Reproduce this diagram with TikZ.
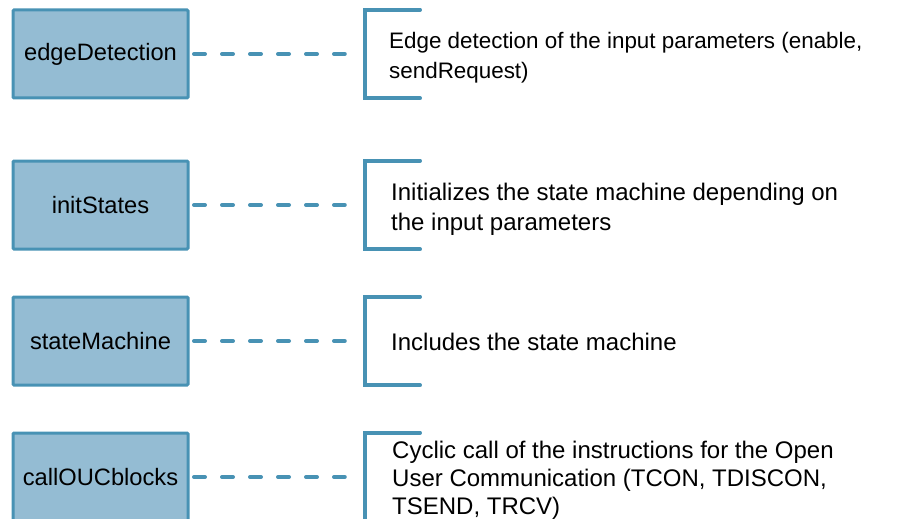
\documentclass[tikz,border=0pt]{standalone}
\usepackage{fontspec}
\setmainfont{Liberation Sans}
\definecolor{boxfill}{RGB}{148,188,211}
\definecolor{boxline}{RGB}{72,146,180}
\tikzset{
  x=1pt, y=-1pt,
  block/.style={draw=boxline, line width=3pt, fill=boxfill, rounded corners=1pt,
    minimum width=175pt, minimum height=88pt, inner sep=0pt,
    font=\fontsize{23.7}{29}\selectfont, text=black},
  bracketarea/.style={draw=none, minimum width=55pt, minimum height=88pt, inner sep=0pt},
  bracketline/.style={draw=boxline, line width=3.5pt, line cap=round},
  link/.style={draw=boxline, line width=4pt, line cap=round,
    dash pattern=on 11pt off 17pt, shorten <=4.5pt, shorten >=20pt},
  desc/.style={anchor=base west, inner sep=0pt, align=left, text=black}
}
\begin{document}
\begin{tikzpicture}
\useasboundingbox (0,0) rectangle (898,519);
\clip (0,0) rectangle (898,519);

% function blocks
\node[block] (b1) at (100.5,54) {edgeDetection};
\node[block] (b2) at (100.5,205) {initStates};
\node[block] (b3) at (100.5,341) {stateMachine};
\node[block] (b4) at (100.5,477) {callOUCblocks};

% areas framed by the open brackets
\node[bracketarea] (r1) at (392.5,54) {};
\node[bracketarea] (r2) at (392.5,205) {};
\node[bracketarea] (r3) at (392.5,341) {};
\node[bracketarea] (r4) at (392.5,477) {};

\foreach \i in {1,2,3,4}{
  \draw[bracketline] (r\i.north east) -- (r\i.north west) -- (r\i.south west) -- (r\i.south east);
  \draw[link] (b\i.east) -- (r\i.west);
}

% descriptions (placed by the baseline of their last line)
\node[desc, font=\fontsize{22.4}{31}\selectfont] (d1) at (389,79)
  {Edge detection of the input parameters (enable,\\sendRequest)};
\node[desc, font=\fontsize{24}{30}\selectfont] (d2) at (391,230)
  {Initializes the state machine depending on\\the input parameters};
\node[desc, font=\fontsize{24}{30}\selectfont] (d3) at (391,350)
  {Includes the state machine};
\node[desc, font=\fontsize{24}{28}\selectfont] (d4) at (392,514)
  {Cyclic call of the instructions for the Open\\User Communication (TCON, TDISCON,\\TSEND, TRCV)};
\end{tikzpicture}
\end{document}
